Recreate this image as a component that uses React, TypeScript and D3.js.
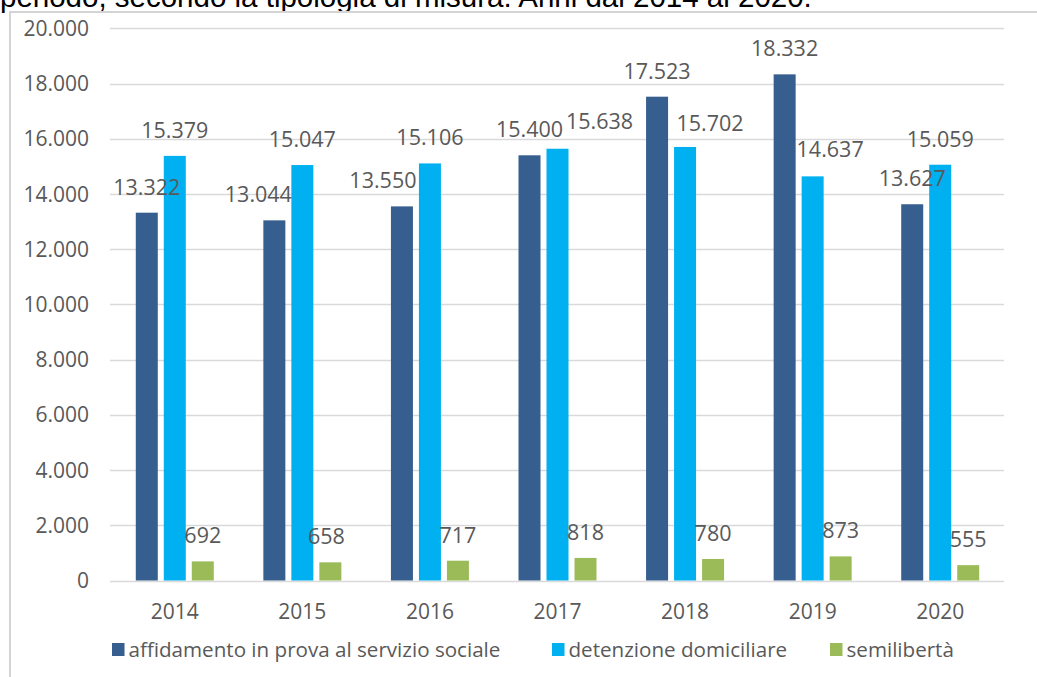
import React from "react";
import * as d3 from "d3";

const years = ["2014", "2015", "2016", "2017", "2018", "2019", "2020"];
const seriesNames = [
  "affidamento in prova al servizio sociale",
  "detenzione domiciliare",
  "semilibertà",
];
const affidamento = [13322, 13044, 13550, 15400, 17523, 18332, 13627];
const detenzione = [15379, 15047, 15106, 15638, 15702, 14637, 15059];
const semiliberta = [692, 658, 717, 818, 780, 873, 555];
const yTicks = [0, 2000, 4000, 6000, 8000, 10000, 12000, 14000, 16000, 18000, 20000];
const colors = ["#365E8F", "#00B0F0", "#9BBB59"];
const titleText = "periodo, secondo la tipologia di misura. Anni dal 2014 al 2020.";

// label nudges (px) for overlapping labels: "seriesIndex-yearIndex" -> [dx, dy]
const labelNudge: Record<string, [number, number]> = {
  "0-1": [-16, 0],
  "0-2": [-19, 0],
  "1-3": [42, -2],
  "1-4": [25, 2],
  "1-5": [17.5, -1],
  "2-1": [-4, 0],
};

const fmt = (v: number) => d3.format(",")(v).replace(/,/g, ".");

export default function App() {
  const W = 1037;
  const H = 677;
  const values = [affidamento, detenzione, semiliberta];
  const x0 = d3.scaleBand().domain(years).range([111, 1004]);
  const x1 = d3
    .scaleBand()
    .domain(seriesNames)
    .range([-39, 39])
    .paddingInner(6 / 28)
    .paddingOuter(0);
  const y = d3.scaleLinear().domain([0, 20000]).range([580.5, 28.3]);
  const font = "'Open Sans', sans-serif";
  const grey = "#595959";

  const legendX = [112, 552, 830];

  return (
    <svg
      width={W}
      height={H}
      style={{ position: "fixed", left: 0, top: 0, background: "#fff" }}
    >
      <rect x={0} y={0} width={W} height={H} fill="#fff" />
      <text
        x={0}
        y={6.5}
        fontFamily="'Liberation Sans', Arial, sans-serif"
        fontSize={29.5}
        fill="#000"
      >
        {titleText}
      </text>
      {/* frame */}
      <line x1={10} x2={W} y1={12} y2={12} stroke="#d4d4d4" strokeWidth={2} />
      <line x1={10} x2={10} y1={11} y2={H} stroke="#d4d4d4" strokeWidth={2} />

      {/* gridlines */}
      {yTicks.map((t) => (
        <line
          key={t}
          x1={110}
          x2={1004}
          y1={Math.round(y(t)) + 0.5}
          y2={Math.round(y(t)) + 0.5}
          stroke="#d9d9d9"
          strokeWidth={1.5}
        />
      ))}
      {yTicks.map((t) => (
        <text
          key={"l" + t}
          x={89}
          y={y(t)}
          dy="0.36em"
          textAnchor="end"
          fontFamily={font}
          fontSize={21}
          fill={grey}
        >
          {fmt(t)}
        </text>
      ))}

      {/* bars */}
      {years.map((yr, i) => (
        <g key={yr} transform={`translate(${x0(yr)! + x0.bandwidth() / 2},0)`}>
          {seriesNames.map((s, si) => {
            const v = values[si][i];
            return (
              <rect
                key={s}
                x={x1(s)!}
                y={y(v)}
                width={x1.bandwidth()}
                height={y(0) - y(v)}
                fill={colors[si]}
              />
            );
          })}
          {seriesNames.map((s, si) => {
            const v = values[si][i];
            const n = labelNudge[`${si}-${i}`] || [0, 0];
            return (
              <text
                key={"t" + s}
                x={x1(s)! + x1.bandwidth() / 2 + n[0]}
                y={y(v) - 18 + n[1]}
                textAnchor="middle"
                fontFamily={font}
                fontSize={21.5}
                fill={grey}
              >
                {fmt(v)}
              </text>
            );
          })}
          <text
            x={0}
            y={619}
            textAnchor="middle"
            fontFamily={font}
            fontSize={21}
            fill={grey}
          >
            {yr}
          </text>
        </g>
      ))}

      {/* legend */}
      {seriesNames.map((s, si) => (
        <g key={"lg" + s}>
          <rect x={legendX[si]} y={643} width={12.5} height={13} fill={colors[si]} />
          <text
            x={legendX[si] + 16.5}
            y={657}
            fontFamily={font}
            fontSize={20.6}
            fill={grey}
          >
            {s}
          </text>
        </g>
      ))}
    </svg>
  );
}
